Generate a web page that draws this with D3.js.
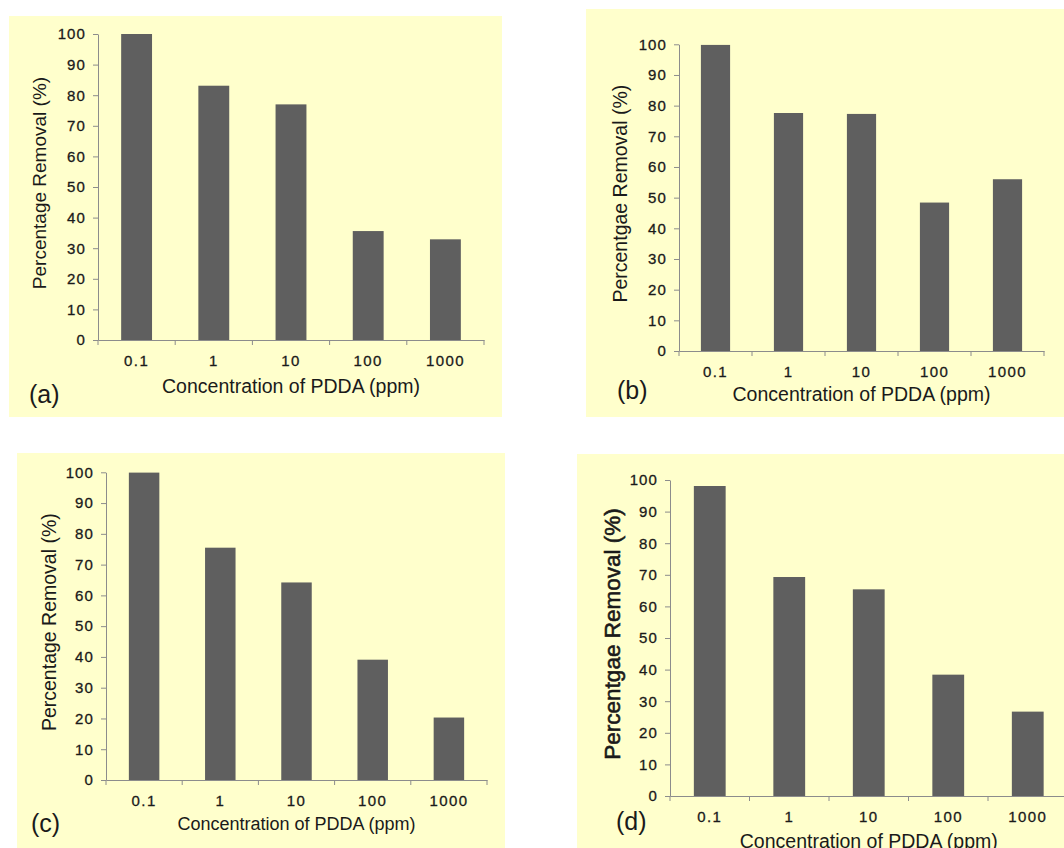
<!DOCTYPE html>
<html>
<head>
<meta charset="utf-8">
<script src="https://cdn.jsdelivr.net/npm/d3@7"></script>
<style>
  html, body { margin: 0; padding: 0; background: #fff; }
  svg { display: block; }
  text { font-family: "Liberation Sans", Arial, sans-serif; fill: #1a1a1a; }
</style>
</head>
<body>
<svg id="chart" width="1064" height="848"></svg>
<script>
// concentrations of PDDA (ppm) on the x axis
const categories = ['0.1', '1', '10', '100', '1000']

// percentage removal
const removalA = [100, 83.1, 77.0, 35.6, 32.9]
const removalB = [99.8, 77.6, 77.3, 48.4, 56.0]
const removalC = [99.9, 75.5, 64.2, 39.1, 20.3]
const removalD = [98.1, 69.3, 65.4, 38.4, 26.7]

const yDomain = [0, 100]
const xTitle = 'Concentration of PDDA (ppm)'

// panel layout: bg box, plot box, label positions
const panels = [
  { tag: '(a)', data: removalA, yTitle: 'Percentage Removal (%)',
    bg: [9, 16, 493, 401], plot: [98, 34, 484, 340],
    yTitleX: 46, yTitleSize: 19, yTitleBold: 0, xTitleY: 393, xTitleSize: 19.5, tagX: 29, tagY: 403 },
  { tag: '(b)', data: removalB, yTitle: 'Percentgae Removal (%)',
    bg: [586, 9, 478, 408], plot: [679, 44.3, 1044, 351],
    yTitleX: 627, yTitleSize: 19.5, yTitleBold: 0, xTitleY: 401, xTitleSize: 19.5, tagX: 617, tagY: 399 },
  { tag: '(c)', data: removalC, yTitle: 'Percentage Removal (%)',
    bg: [17, 453, 488, 395], plot: [106, 472.3, 487, 780],
    yTitleX: 56, yTitleSize: 19.5, yTitleBold: 0, xTitleY: 830, xTitleSize: 18, tagX: 31, tagY: 832 },
  { tag: '(d)', data: removalD, yTitle: 'Percentgae Removal (%)',
    bg: [577, 454, 487, 394], plot: [670, 480, 1067.5, 796],
    yTitleX: 620, yTitleSize: 22.5, yTitleBold: 0.6, xTitleY: 848, xTitleSize: 19.5, tagX: 616, tagY: 830 }
]

const svg = d3.select('#chart')

function styleTickText (sel, spacing) {
  sel.style('font-size', '15px')
    .style('letter-spacing', spacing + 'px')
    .attr('fill', '#1a1a1a')
    .attr('stroke', '#1a1a1a')
    .attr('stroke-width', 0.3)
}

function drawPanel (p) {
  const [left, top, right, bottom] = p.plot
  const g = svg.append('g')

  g.append('rect')
    .attr('x', p.bg[0]).attr('y', p.bg[1])
    .attr('width', p.bg[2]).attr('height', p.bg[3])
    .attr('fill', '#ffffcc')

  const x = d3.scaleBand()
    .domain(categories)
    .range([left, right])
    .paddingInner(0.6)
    .paddingOuter(0.3)

  const y = d3.scaleLinear()
    .domain(yDomain)
    .range([bottom, top])

  g.selectAll('rect.bar')
    .data(p.data)
    .join('rect')
    .attr('class', 'bar')
    .attr('x', (d, i) => x(categories[i]))
    .attr('y', d => y(d))
    .attr('width', x.bandwidth())
    .attr('height', d => y(0) - y(d))
    .attr('fill', '#5f5f5f')

  // y axis
  const yAxis = g.append('g')
    .attr('transform', `translate(${left},0)`)
    .call(d3.axisLeft(y).ticks(10).tickSizeOuter(0).tickSizeInner(5).tickPadding(7))
  yAxis.select('.domain').attr('stroke', '#8c8c8c')
  yAxis.selectAll('.tick line').attr('stroke', '#8c8c8c')
  yAxis.selectAll('.tick text').call(styleTickText, 1.1)

  // x axis: labels under bars, ticks on category boundaries
  const xAxis = g.append('g')
    .attr('transform', `translate(0,${bottom})`)
    .call(d3.axisBottom(x).tickSize(0).tickPadding(15))
  xAxis.select('.domain').attr('stroke', '#8c8c8c')
  xAxis.selectAll('.tick text').call(styleTickText, 1.4)

  const edges = d3.range(categories.length + 1).map(i => left + i * x.step())
  xAxis.selectAll('line.edge')
    .data(edges)
    .join('line')
    .attr('class', 'edge')
    .attr('x1', d => d).attr('x2', d => d)
    .attr('y1', 0).attr('y2', 5)
    .attr('stroke', '#8c8c8c')

  // titles
  g.append('text')
    .attr('transform', `translate(${p.yTitleX},${(top + bottom) / 2 - 4}) rotate(-90)`)
    .attr('text-anchor', 'middle')
    .attr('stroke', '#1a1a1a')
    .attr('stroke-width', p.yTitleBold)
    .style('font-size', p.yTitleSize + 'px')
    .text(p.yTitle)

  g.append('text')
    .attr('x', (left + right) / 2)
    .attr('y', p.xTitleY)
    .attr('text-anchor', 'middle')
    .style('font-size', p.xTitleSize + 'px')
    .text(xTitle)

  g.append('text')
    .attr('x', p.tagX)
    .attr('y', p.tagY)
    .style('font-size', '25px')
    .text(p.tag)
}

panels.forEach(drawPanel)
</script>
</body>
</html>
